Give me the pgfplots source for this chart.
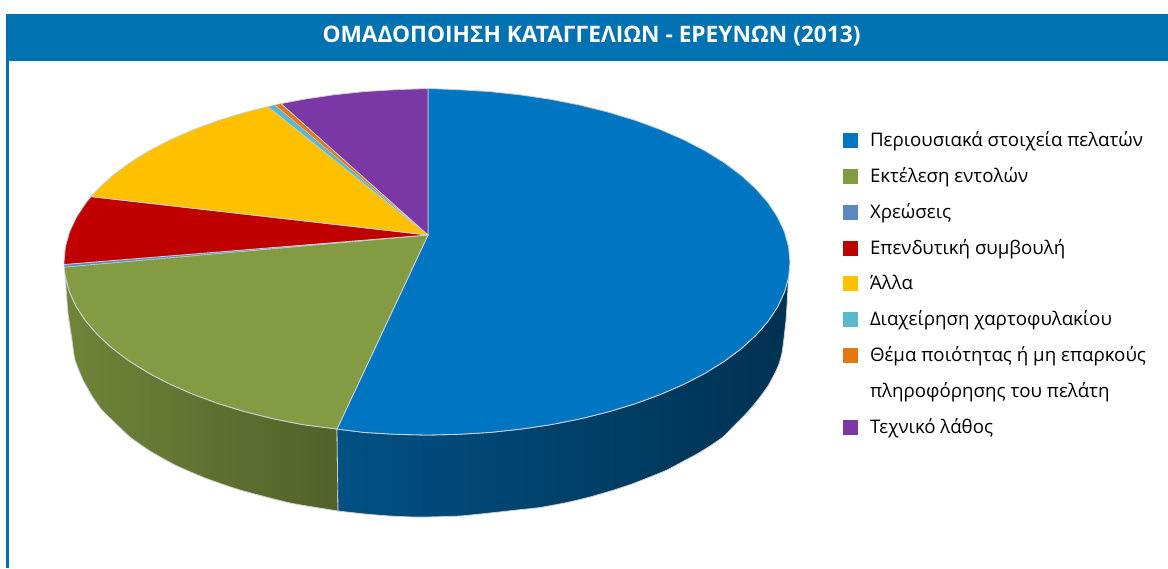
\documentclass[border=0pt]{standalone}
\usepackage{fontspec}
\setmainfont{Open Sans}
\usepackage{pgfplots}
\pgfplotsset{compat=1.18}
\definecolor{barblue}{HTML}{0071B1}
\definecolor{pieblue}{HTML}{0076C2}
\definecolor{piegreen}{HTML}{839C43}
\definecolor{piesteel}{HTML}{5B88C0}
\definecolor{piered}{HTML}{C00000}
\definecolor{pieyellow}{HTML}{FFC000}
\definecolor{piecyan}{HTML}{5BB6CF}
\definecolor{pieorange}{HTML}{E8760F}
\definecolor{piepurple}{HTML}{7B37A3}
\definecolor{rim}{HTML}{CBD2D6}
\begin{document}
\begin{tikzpicture}
\begin{axis}[
    scale only axis, width=1168pt, height=568pt,
    xmin=0, xmax=1168, ymin=0, ymax=568, y dir=reverse,
    hide axis, clip=false,
    legend image code/.code={\fill[#1,draw=none] (0pt,-1.5pt) rectangle (15pt,13.5pt);},
    legend cell align=left,
    legend style={draw=none, fill=none, at={(axis cs:843,130)}, anchor=north west,
        inner sep=0pt, outer sep=0pt, row sep=15.2pt,
        nodes={inner sep=0pt, anchor=base west, text height=16.6pt, text depth=4pt},
        font=\fontsize{18.7}{20}\selectfont,
        /tikz/column 1/.style={column sep=12pt}},
]
% side walls
\addplot[forget plot, smooth, tension=0.3, draw=rim, line width=0.8pt, left color=piegreen!85!black, right color=piegreen!62!black] coordinates {
    (338,511)(290,503)(240,490)(205,478)(175,465)(150,451)(130,437)(112,420)(101,409)(92,396)(83,380)(75,360)(72,340)(68,313)(66,287)(65,272)
    (65.4,277.1)(69.5,292)(76.4,306.8)(85.9,321.2)(98,335.1)(112.6,348.5)(129.6,361.2)(148.9,373.2)(170.3,384.3)(193.7,394.5)(218.8,403.7)(245.5,411.8)(273.6,418.8)(302.9,424.6)(337,429)
} -- cycle;
\addplot[forget plot, smooth, tension=0.3, draw=rim, line width=0.8pt, left color=pieblue!68!black, middle color=pieblue!42!black, right color=pieblue!42!black] coordinates {
    (337,429)(364,432.4)(395.3,434.3)(427,435)(458.7,434.3)(490,432.4)(520.9,429.1)(551.1,424.6)(580.4,418.8)(608.5,411.8)(635.2,403.7)(660.3,394.5)(683.7,384.3)(705.1,373.2)(724.4,361.2)(741.4,348.5)(756,335.1)(768.1,321.2)(777.6,306.8)(784.5,292)(788.6,277.1)
    (788,287)(787,305)(786,320)(784,338)(782,353)(779,364)(775,373)(768,386)(760,397)(752,407)(743,417)(733,427)(723,437)(710,446)(697,454)(682,462)(667,470)(650,477)(632,484)(614,490)(590,497)(567,502.5)(540,507.5)(517,510)(490,513)(460,516)(427,517)(413,517)(390,516)(365,514)(338,511)
} -- cycle;
% top of the pie, one wedge for each category
\addplot[draw=rim, line width=0.8pt, fill=pieblue] coordinates {
    (428,235)(428,88.5)(458.7,89.7)(490,91.6)(520.9,94.9)(551.1,99.4)(580.4,105.2)(608.5,112.2)(635.2,120.3)(660.3,129.5)(683.7,139.7)(705.1,150.8)(724.4,162.8)(741.4,175.5)(756,188.9)(768.1,202.8)(777.6,217.2)(784.5,232)(788.6,246.9)(790,262)(788.6,277.1)(784.5,292)(777.6,306.8)(768.1,321.2)(756,335.1)(741.4,348.5)(724.4,361.2)(705.1,373.2)(683.7,384.3)(660.3,394.5)(635.2,403.7)(608.5,411.8)(580.4,418.8)(551.1,424.6)(520.9,429.1)(490,432.4)(458.7,434.3)(427,435)(395.3,434.3)(364,432.4)(337,429)
} -- cycle;
\addlegendentry{Περιουσιακά στοιχεία πελατών}
\addplot[draw=rim, line width=0.8pt, fill=piegreen] coordinates {
    (428,235)(337,429)(302.9,424.6)(273.6,418.8)(245.5,411.8)(218.8,403.7)(193.7,394.5)(170.3,384.3)(148.9,373.2)(129.6,361.2)(112.6,348.5)(98,335.1)(85.9,321.2)(76.4,306.8)(69.5,292)(65.4,277.1)(64.3,267)
} -- cycle;
\addlegendentry{Εκτέλεση εντολών}
\addplot[draw=rim, line width=0.4pt, fill=piesteel] coordinates {
    (428,235)(64.3,267)(64,264.5)
} -- cycle;
\addlegendentry{Χρεώσεις}
\addplot[draw=rim, line width=0.8pt, fill=piered] coordinates {
    (428,235)(64,264.5)(64,262)(65.4,246.9)(69.5,232)(76.4,217.2)(85.9,202.8)(91,196.6)
} -- cycle;
\addlegendentry{Επενδυτική συμβουλή}
\addplot[draw=rim, line width=0.8pt, fill=pieyellow] coordinates {
    (428,235)(91,196.6)(98,188.9)(112.6,175.5)(129.6,162.8)(148.9,150.8)(170.3,139.7)(193.7,129.5)(218.8,120.3)(245.5,112.2)(268,106.5)
} -- cycle;
\addlegendentry{Άλλα}
\addplot[draw=rim, line width=0.3pt, fill=piecyan] coordinates {
    (428,235)(268,106.5)(275,104.9)
} -- cycle;
\addlegendentry{Διαχείρηση χαρτοφυλακίου}
\addplot[draw=rim, line width=0.3pt, fill=pieorange] coordinates {
    (428,235)(275,104.9)(281,103.6)
} -- cycle;
\addlegendentry{Θέμα ποιότητας ή μη επαρκούς}
\addlegendimage{empty legend}
\addlegendentry{πληροφόρησης του πελάτη}
\addplot[draw=rim, line width=0.8pt, fill=piepurple] coordinates {
    (428,235)(281,103.6)(302.9,99.4)(333.1,94.9)(364,91.6)(395.3,89.7)(428,88.5)
} -- cycle;
\addlegendentry{Τεχνικό λάθος}
% header bar and left frame line
\fill[barblue] (axis cs:6,14) rectangle (axis cs:1168,60.5);
\fill[barblue] (axis cs:6,60) rectangle (axis cs:8.5,568);
\node[text=white, font=\fontsize{22.7}{26}\selectfont\bfseries] at (axis cs:591.5,36) {ΟΜΑΔΟΠΟΙΗΣΗ ΚΑΤΑΓΓΕΛΙΩΝ - ΕΡΕΥΝΩΝ (2013)};
\end{axis}
\path (0,0) rectangle (1168pt,568pt);
\end{tikzpicture}
\end{document}
